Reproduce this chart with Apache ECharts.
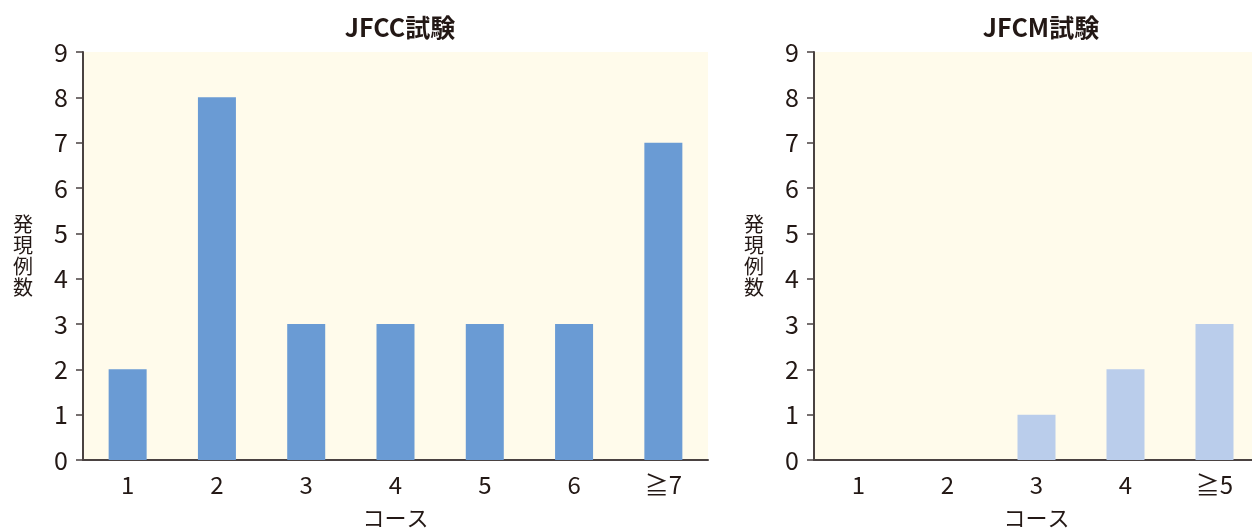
<!DOCTYPE html>
<html>
<head>
<meta charset="utf-8">
<script src="https://cdn.jsdelivr.net/npm/echarts@6/dist/echarts.min.js"></script>
<style>
  html, body { margin: 0; padding: 0; background: #ffffff; }
  #chart { width: 1252px; height: 531px; }
</style>
</head>
<body>
<div id="chart"></div>
<script>
// Adverse event counts per course, two trials
const jfccCourses = ['1', '2', '3', '4', '5', '6', '≧7'];
const jfccCounts = [2, 8, 3, 3, 3, 3, 7];
const jfcmCourses = ['1', '2', '3', '4', '≧5'];
const jfcmCounts = [0, 0, 1, 2, 3];
const yTicks = [0, 1, 2, 3, 4, 5, 6, 7, 8, 9];

const FONT = '"Noto Sans CJK JP", "Noto Sans", sans-serif';
const TEXT = '#231815';
const AXIS = '#4a4241';
const PANEL = '#fffbeb';

const chart = echarts.init(document.getElementById('chart'), null, { renderer: 'canvas' });

function xAxis(gridIndex, cats) {
  return {
    type: 'category', gridIndex, data: cats,
    name: 'コース', nameLocation: 'middle', nameGap: 47,
    nameTextStyle: { fontFamily: FONT, fontSize: 22, color: TEXT },
    axisLine: { lineStyle: { color: AXIS, width: 2 } },
    axisTick: { show: false },
    axisLabel: { fontFamily: FONT, fontSize: 24, color: TEXT, margin: 13 }
  };
}
function yAxis(gridIndex) {
  return {
    type: 'value', gridIndex, min: yTicks[0], max: yTicks[yTicks.length - 1], interval: 1,
    name: '発\n現\n例\n数', nameLocation: 'middle', nameRotate: 0, nameGap: 50,
    nameTextStyle: { fontFamily: FONT, fontSize: 20, color: TEXT, lineHeight: 21 },
    axisLine: { show: true, lineStyle: { color: AXIS, width: 2 } },
    axisTick: { show: true, length: 7, lineStyle: { color: AXIS, width: 1.5 } },
    axisLabel: { fontFamily: FONT, fontSize: 25, color: TEXT, margin: 15 },
    splitLine: { show: false }
  };
}

chart.setOption({
  animation: false,
  backgroundColor: '#ffffff',
  title: [
    { text: 'JFCC試験', left: 395, top: 10, textAlign: 'center',
      textStyle: { fontFamily: FONT, fontSize: 25, fontWeight: 'bold', color: TEXT } },
    { text: 'JFCM試験', left: 1036, top: 10, textAlign: 'center',
      textStyle: { fontFamily: FONT, fontSize: 25, fontWeight: 'bold', color: TEXT } }
  ],
  grid: [
    { left: 83, width: 625, top: 52, bottom: 71, outerBoundsMode: 'none', containLabel: false,
      show: true, backgroundColor: PANEL, borderWidth: 0 },
    { left: 814, width: 445, top: 52, bottom: 71, outerBoundsMode: 'none', containLabel: false,
      show: true, backgroundColor: PANEL, borderWidth: 0 }
  ],
  xAxis: [xAxis(0, jfccCourses), xAxis(1, jfcmCourses)],
  yAxis: [yAxis(0), yAxis(1)],
  series: [
    { type: 'bar', xAxisIndex: 0, yAxisIndex: 0, data: jfccCounts,
      barWidth: 38, itemStyle: { color: '#6a9bd4' } },
    { type: 'bar', xAxisIndex: 1, yAxisIndex: 1, data: jfcmCounts,
      barWidth: 38, itemStyle: { color: '#bacdeb' } }
  ]
});
</script>
</body>
</html>
